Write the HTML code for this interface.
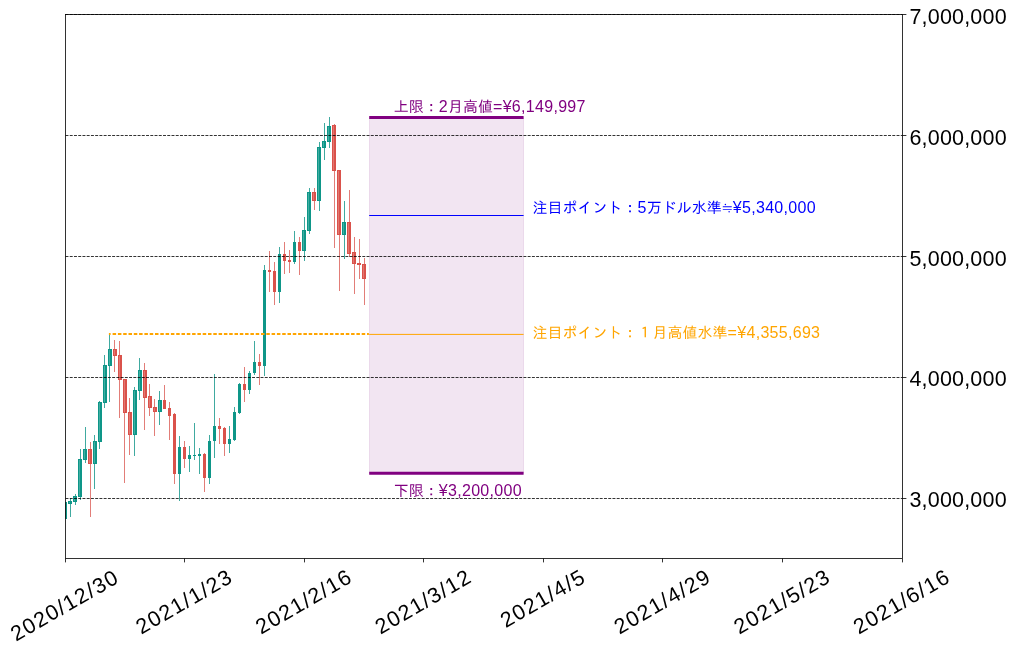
<!DOCTYPE html>
<html lang="ja"><head><meta charset="utf-8"><title>chart</title>
<style>
html,body{margin:0;padding:0;background:#fff;}
body{width:1014px;height:650px;overflow:hidden;}
svg{display:block;}
text{font-family:"Liberation Sans","IPAGothic","Noto Sans CJK JP",sans-serif;}
.tick{font-size:21.5px;fill:#000;letter-spacing:0.2px;}
.xt{font-size:21.5px;fill:#000;letter-spacing:1.32px;}
.ann{font-size:15px;}
.la{font-size:16px;letter-spacing:0.3px;}
</style></head><body>
<svg width="1014" height="650" viewBox="0 0 1014 650">
<rect width="1014" height="650" fill="#fff"/>

<rect x="369.5" y="117.4" width="154" height="355.9" fill="#800080" fill-opacity="0.1" stroke="#800080" stroke-opacity="0.1" stroke-width="1"/>
<defs><clipPath id="ax"><rect x="65.5" y="14.5" width="837" height="544"/></clipPath></defs>
<g clip-path="url(#ax)">
<rect x="65" y="502" width="1" height="17" fill="#40aaa0"/>
<rect x="63" y="502" width="4" height="17" fill="#0e9688"/>
<rect x="64" y="503" width="1" height="15" fill="#fff" fill-opacity="0.22"/>
<rect x="70" y="498" width="1" height="19" fill="#40aaa0"/>
<rect x="68" y="501" width="4" height="3" fill="#0e9688"/>
<rect x="69" y="502" width="1" height="1" fill="#fff" fill-opacity="0.22"/>
<rect x="75" y="494" width="1" height="11" fill="#40aaa0"/>
<rect x="73" y="496" width="4" height="6" fill="#0e9688"/>
<rect x="74" y="497" width="1" height="4" fill="#fff" fill-opacity="0.22"/>
<rect x="80" y="449" width="1" height="51" fill="#40aaa0"/>
<rect x="78" y="459" width="4" height="38" fill="#0e9688"/>
<rect x="79" y="460" width="1" height="36" fill="#fff" fill-opacity="0.22"/>
<rect x="85" y="427" width="1" height="36" fill="#40aaa0"/>
<rect x="83" y="449" width="4" height="11" fill="#0e9688"/>
<rect x="84" y="450" width="1" height="9" fill="#fff" fill-opacity="0.22"/>
<rect x="90" y="442" width="1" height="75" fill="#e27d78"/>
<rect x="88" y="449" width="4" height="15" fill="#da524b"/>
<rect x="89" y="450" width="1" height="13" fill="#fff" fill-opacity="0.22"/>
<rect x="94" y="435" width="1" height="54" fill="#40aaa0"/>
<rect x="93" y="441" width="4" height="23" fill="#0e9688"/>
<rect x="94" y="442" width="1" height="21" fill="#fff" fill-opacity="0.22"/>
<rect x="99" y="401" width="1" height="48" fill="#40aaa0"/>
<rect x="98" y="402" width="4" height="40" fill="#0e9688"/>
<rect x="99" y="403" width="1" height="38" fill="#fff" fill-opacity="0.22"/>
<rect x="104" y="355" width="1" height="53" fill="#40aaa0"/>
<rect x="103" y="365" width="4" height="38" fill="#0e9688"/>
<rect x="104" y="366" width="1" height="36" fill="#fff" fill-opacity="0.22"/>
<rect x="109" y="334" width="1" height="68" fill="#40aaa0"/>
<rect x="108" y="349" width="4" height="17" fill="#0e9688"/>
<rect x="109" y="350" width="1" height="15" fill="#fff" fill-opacity="0.22"/>
<rect x="114" y="340" width="1" height="32" fill="#e27d78"/>
<rect x="113" y="349" width="4" height="7" fill="#da524b"/>
<rect x="114" y="350" width="1" height="5" fill="#fff" fill-opacity="0.22"/>
<rect x="119" y="341" width="1" height="77" fill="#e27d78"/>
<rect x="118" y="355" width="4" height="25" fill="#da524b"/>
<rect x="119" y="356" width="1" height="23" fill="#fff" fill-opacity="0.22"/>
<rect x="124" y="379" width="1" height="104" fill="#e27d78"/>
<rect x="123" y="379" width="4" height="34" fill="#da524b"/>
<rect x="124" y="380" width="1" height="32" fill="#fff" fill-opacity="0.22"/>
<rect x="129" y="398" width="1" height="57" fill="#e27d78"/>
<rect x="128" y="412" width="4" height="23" fill="#da524b"/>
<rect x="129" y="413" width="1" height="21" fill="#fff" fill-opacity="0.22"/>
<rect x="134" y="387" width="1" height="69" fill="#40aaa0"/>
<rect x="133" y="390" width="4" height="45" fill="#0e9688"/>
<rect x="134" y="391" width="1" height="43" fill="#fff" fill-opacity="0.22"/>
<rect x="139" y="358" width="1" height="42" fill="#40aaa0"/>
<rect x="138" y="370" width="4" height="21" fill="#0e9688"/>
<rect x="139" y="371" width="1" height="19" fill="#fff" fill-opacity="0.22"/>
<rect x="144" y="363" width="1" height="67" fill="#e27d78"/>
<rect x="143" y="370" width="4" height="28" fill="#da524b"/>
<rect x="144" y="371" width="1" height="26" fill="#fff" fill-opacity="0.22"/>
<rect x="149" y="384" width="1" height="32" fill="#e27d78"/>
<rect x="148" y="396" width="4" height="12" fill="#da524b"/>
<rect x="149" y="397" width="1" height="10" fill="#fff" fill-opacity="0.22"/>
<rect x="154" y="399" width="1" height="37" fill="#e27d78"/>
<rect x="153" y="407" width="4" height="5" fill="#da524b"/>
<rect x="154" y="408" width="1" height="3" fill="#fff" fill-opacity="0.22"/>
<rect x="159" y="391" width="1" height="34" fill="#40aaa0"/>
<rect x="158" y="400" width="4" height="12" fill="#0e9688"/>
<rect x="159" y="401" width="1" height="10" fill="#fff" fill-opacity="0.22"/>
<rect x="164" y="385" width="1" height="24" fill="#e27d78"/>
<rect x="163" y="400" width="3" height="9" fill="#da524b"/>
<rect x="169" y="402" width="1" height="38" fill="#e27d78"/>
<rect x="168" y="408" width="3" height="8" fill="#da524b"/>
<rect x="174" y="413" width="1" height="71" fill="#e27d78"/>
<rect x="173" y="414" width="3" height="60" fill="#da524b"/>
<rect x="179" y="436" width="1" height="65" fill="#40aaa0"/>
<rect x="178" y="447" width="3" height="27" fill="#0e9688"/>
<rect x="184" y="441" width="1" height="27" fill="#e27d78"/>
<rect x="183" y="447" width="3" height="12" fill="#da524b"/>
<rect x="189" y="446" width="1" height="26" fill="#40aaa0"/>
<rect x="188" y="455" width="3" height="4" fill="#0e9688"/>
<rect x="194" y="423" width="1" height="37" fill="#40aaa0"/>
<rect x="193" y="455" width="3" height="1" fill="#0e9688"/>
<rect x="199" y="448" width="1" height="26" fill="#40aaa0"/>
<rect x="198" y="454" width="3" height="2" fill="#0e9688"/>
<rect x="204" y="453" width="1" height="39" fill="#e27d78"/>
<rect x="203" y="454" width="3" height="24" fill="#da524b"/>
<rect x="209" y="435" width="1" height="49" fill="#40aaa0"/>
<rect x="208" y="441" width="3" height="37" fill="#0e9688"/>
<rect x="214" y="374" width="1" height="84" fill="#40aaa0"/>
<rect x="213" y="426" width="3" height="15" fill="#0e9688"/>
<rect x="219" y="418" width="1" height="26" fill="#e27d78"/>
<rect x="218" y="426" width="3" height="3" fill="#da524b"/>
<rect x="224" y="427" width="1" height="29" fill="#e27d78"/>
<rect x="223" y="428" width="3" height="16" fill="#da524b"/>
<rect x="229" y="426" width="1" height="27" fill="#40aaa0"/>
<rect x="228" y="439" width="3" height="5" fill="#0e9688"/>
<rect x="234" y="407" width="1" height="34" fill="#40aaa0"/>
<rect x="233" y="412" width="3" height="28" fill="#0e9688"/>
<rect x="239" y="383" width="1" height="31" fill="#40aaa0"/>
<rect x="238" y="384" width="3" height="29" fill="#0e9688"/>
<rect x="244" y="367" width="1" height="35" fill="#e27d78"/>
<rect x="243" y="384" width="3" height="6" fill="#da524b"/>
<rect x="249" y="371" width="1" height="23" fill="#40aaa0"/>
<rect x="248" y="373" width="3" height="17" fill="#0e9688"/>
<rect x="254" y="341" width="1" height="34" fill="#40aaa0"/>
<rect x="253" y="362" width="3" height="11" fill="#0e9688"/>
<rect x="259" y="354" width="1" height="31" fill="#e27d78"/>
<rect x="258" y="362" width="3" height="4" fill="#da524b"/>
<rect x="264" y="265" width="1" height="111" fill="#40aaa0"/>
<rect x="263" y="270" width="3" height="96" fill="#0e9688"/>
<rect x="269" y="251" width="1" height="41" fill="#e27d78"/>
<rect x="268" y="270" width="3" height="2" fill="#da524b"/>
<rect x="274" y="262" width="1" height="43" fill="#e27d78"/>
<rect x="273" y="271" width="3" height="21" fill="#da524b"/>
<rect x="279" y="247" width="1" height="56" fill="#40aaa0"/>
<rect x="278" y="254" width="3" height="38" fill="#0e9688"/>
<rect x="284" y="242" width="1" height="32" fill="#e27d78"/>
<rect x="283" y="254" width="3" height="7" fill="#da524b"/>
<rect x="289" y="250" width="1" height="23" fill="#e27d78"/>
<rect x="288" y="260" width="3" height="2" fill="#da524b"/>
<rect x="294" y="231" width="1" height="33" fill="#40aaa0"/>
<rect x="293" y="242" width="3" height="20" fill="#0e9688"/>
<rect x="299" y="237" width="1" height="38" fill="#e27d78"/>
<rect x="298" y="242" width="3" height="9" fill="#da524b"/>
<rect x="304" y="217" width="1" height="44" fill="#40aaa0"/>
<rect x="302" y="230" width="4" height="21" fill="#0e9688"/>
<rect x="303" y="231" width="1" height="19" fill="#fff" fill-opacity="0.22"/>
<rect x="309" y="188" width="1" height="46" fill="#40aaa0"/>
<rect x="307" y="192" width="4" height="39" fill="#0e9688"/>
<rect x="308" y="193" width="1" height="37" fill="#fff" fill-opacity="0.22"/>
<rect x="314" y="188" width="1" height="22" fill="#e27d78"/>
<rect x="312" y="192" width="4" height="9" fill="#da524b"/>
<rect x="313" y="193" width="1" height="7" fill="#fff" fill-opacity="0.22"/>
<rect x="319" y="142" width="1" height="69" fill="#40aaa0"/>
<rect x="317" y="147" width="4" height="54" fill="#0e9688"/>
<rect x="318" y="148" width="1" height="52" fill="#fff" fill-opacity="0.22"/>
<rect x="324" y="123" width="1" height="37" fill="#40aaa0"/>
<rect x="322" y="141" width="4" height="7" fill="#0e9688"/>
<rect x="323" y="142" width="1" height="5" fill="#fff" fill-opacity="0.22"/>
<rect x="329" y="117" width="1" height="31" fill="#40aaa0"/>
<rect x="327" y="126" width="4" height="16" fill="#0e9688"/>
<rect x="328" y="127" width="1" height="14" fill="#fff" fill-opacity="0.22"/>
<rect x="334" y="124" width="1" height="124" fill="#e27d78"/>
<rect x="332" y="125" width="4" height="46" fill="#da524b"/>
<rect x="333" y="126" width="1" height="44" fill="#fff" fill-opacity="0.22"/>
<rect x="339" y="170" width="1" height="121" fill="#e27d78"/>
<rect x="337" y="170" width="4" height="65" fill="#da524b"/>
<rect x="338" y="171" width="1" height="63" fill="#fff" fill-opacity="0.22"/>
<rect x="344" y="201" width="1" height="58" fill="#40aaa0"/>
<rect x="342" y="222" width="4" height="13" fill="#0e9688"/>
<rect x="343" y="223" width="1" height="11" fill="#fff" fill-opacity="0.22"/>
<rect x="349" y="190" width="1" height="67" fill="#e27d78"/>
<rect x="347" y="222" width="4" height="32" fill="#da524b"/>
<rect x="348" y="223" width="1" height="30" fill="#fff" fill-opacity="0.22"/>
<rect x="354" y="237" width="1" height="57" fill="#e27d78"/>
<rect x="352" y="252" width="4" height="12" fill="#da524b"/>
<rect x="353" y="253" width="1" height="10" fill="#fff" fill-opacity="0.22"/>
<rect x="359" y="239" width="1" height="40" fill="#e27d78"/>
<rect x="357" y="263" width="4" height="2" fill="#da524b"/>
<rect x="364" y="258" width="1" height="47" fill="#e27d78"/>
<rect x="362" y="264" width="4" height="15" fill="#da524b"/>
<rect x="363" y="265" width="1" height="13" fill="#fff" fill-opacity="0.22"/>
</g>
<line x1="65.5" x2="902.5" y1="14.50" y2="14.50" stroke="#000" stroke-width="0.8" stroke-dasharray="2.96 1.28"/>
<line x1="65.5" x2="902.5" y1="135.50" y2="135.50" stroke="#000" stroke-width="0.8" stroke-dasharray="2.96 1.28"/>
<line x1="65.5" x2="902.5" y1="256.50" y2="256.50" stroke="#000" stroke-width="0.8" stroke-dasharray="2.96 1.28"/>
<line x1="65.5" x2="902.5" y1="377.50" y2="377.50" stroke="#000" stroke-width="0.8" stroke-dasharray="2.96 1.28"/>
<line x1="65.5" x2="902.5" y1="498.50" y2="498.50" stroke="#000" stroke-width="0.8" stroke-dasharray="2.96 1.28"/>
<line x1="108.9" x2="110.6" y1="334" y2="334" stroke="#ffa500" stroke-width="2"/>
<line x1="112.6" x2="368.9" y1="334" y2="334" stroke="#ffa500" stroke-width="2" stroke-dasharray="3.5 1.8"/>
<line x1="369.2" x2="523.6" y1="334.4" y2="334.4" stroke="#ffa500" stroke-width="1"/>
<line x1="369.2" x2="523.6" y1="215.5" y2="215.5" stroke="#0000ff" stroke-width="1"/>
<line x1="369.2" x2="523.6" y1="117.4" y2="117.4" stroke="#800080" stroke-width="3"/>
<line x1="369.2" x2="523.6" y1="473.3" y2="473.3" stroke="#800080" stroke-width="3"/>
<rect x="65.5" y="14.5" width="837.0" height="544.0" fill="none" stroke="#000" stroke-width="0.8"/>
<line x1="65.50" x2="65.50" y1="558.5" y2="562.4" stroke="#000" stroke-width="0.8"/>
<line x1="184.50" x2="184.50" y1="558.5" y2="562.4" stroke="#000" stroke-width="0.8"/>
<line x1="304.50" x2="304.50" y1="558.5" y2="562.4" stroke="#000" stroke-width="0.8"/>
<line x1="423.50" x2="423.50" y1="558.5" y2="562.4" stroke="#000" stroke-width="0.8"/>
<line x1="543.50" x2="543.50" y1="558.5" y2="562.4" stroke="#000" stroke-width="0.8"/>
<line x1="662.50" x2="662.50" y1="558.5" y2="562.4" stroke="#000" stroke-width="0.8"/>
<line x1="782.50" x2="782.50" y1="558.5" y2="562.4" stroke="#000" stroke-width="0.8"/>
<line x1="902.50" x2="902.50" y1="558.5" y2="562.4" stroke="#000" stroke-width="0.8"/>
<line x1="902.5" x2="906.4" y1="14.50" y2="14.50" stroke="#000" stroke-width="0.8"/>
<line x1="902.5" x2="906.4" y1="135.50" y2="135.50" stroke="#000" stroke-width="0.8"/>
<line x1="902.5" x2="906.4" y1="256.50" y2="256.50" stroke="#000" stroke-width="0.8"/>
<line x1="902.5" x2="906.4" y1="377.50" y2="377.50" stroke="#000" stroke-width="0.8"/>
<line x1="902.5" x2="906.4" y1="498.50" y2="498.50" stroke="#000" stroke-width="0.8"/>
<text class="tick" x="909.4" y="23.80">7,000,000</text>
<text class="tick" x="909.4" y="144.69">6,000,000</text>
<text class="tick" x="909.4" y="265.58">5,000,000</text>
<text class="tick" x="909.4" y="386.47">4,000,000</text>
<text class="tick" x="909.4" y="507.36">3,000,000</text>
<text class="xt" text-anchor="middle" transform="translate(64.00,605.40) rotate(-30)" x="0.65" y="7.5">2020/12/30</text>
<text class="xt" text-anchor="middle" transform="translate(183.57,601.70) rotate(-30)" x="0.65" y="7.5">2021/1/23</text>
<text class="xt" text-anchor="middle" transform="translate(303.14,601.70) rotate(-30)" x="0.65" y="7.5">2021/2/16</text>
<text class="xt" text-anchor="middle" transform="translate(422.71,601.70) rotate(-30)" x="0.65" y="7.5">2021/3/12</text>
<text class="xt" text-anchor="middle" transform="translate(542.29,598.45) rotate(-30)" x="0.65" y="7.5">2021/4/5</text>
<text class="xt" text-anchor="middle" transform="translate(661.86,601.70) rotate(-30)" x="0.65" y="7.5">2021/4/29</text>
<text class="xt" text-anchor="middle" transform="translate(781.43,601.70) rotate(-30)" x="0.65" y="7.5">2021/5/23</text>
<text class="xt" text-anchor="middle" transform="translate(901.00,601.70) rotate(-30)" x="0.65" y="7.5">2021/6/16</text>
<text class="ann" x="393.8" y="112" fill="#800080">上限：<tspan class="la">2</tspan>月高値<tspan class="la">=¥6,149,997</tspan></text>
<text class="ann" x="393.8" y="496.1" fill="#800080">下限：<tspan class="la">¥3,200,000</tspan></text>
<text class="ann" x="532.6" y="213.1" fill="#0000ff">注目ポイント：<tspan class="la">5</tspan>万ドル水準<tspan dx="-1" style="font-size:13px">≒</tspan><tspan dx="-1" class="la">¥5,340,000</tspan></text>
<text class="ann" x="532.6" y="338.4" fill="#ffa500">注目ポイント：１月高値水準<tspan class="la">=¥4,355,693</tspan></text>
</svg></body></html>
